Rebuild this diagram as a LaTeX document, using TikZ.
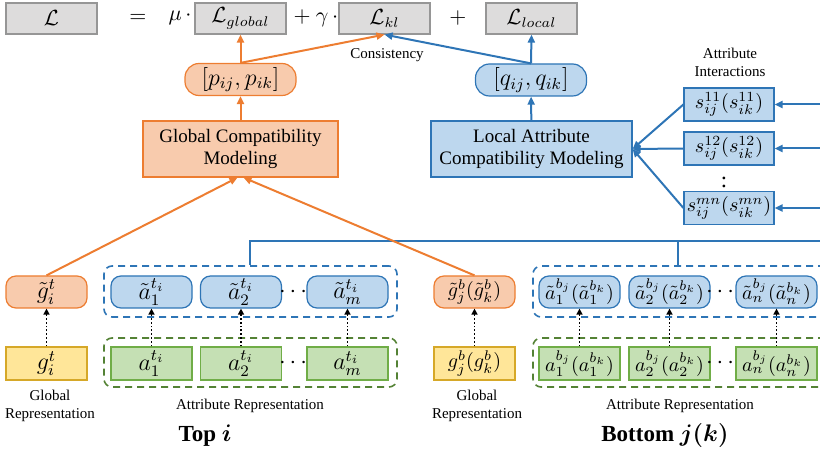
\documentclass[tikz,border=0pt]{standalone}
\usepackage{fontspec}
\setmainfont{Liberation Serif}
\usepackage{amsmath, amssymb, bm}
\usetikzlibrary{arrows.meta, positioning, calc}

\definecolor{lossgray}{RGB}{221, 220, 220}
\definecolor{lossedge}{RGB}{150, 150, 150}
\definecolor{globfill}{RGB}{248, 203, 173}
\definecolor{globline}{RGB}{237, 125, 49}
\definecolor{locfill}{RGB}{189, 215, 238}
\definecolor{locline}{RGB}{46, 117, 182}
\definecolor{repfill}{RGB}{255, 230, 153}
\definecolor{repline}{RGB}{214, 168, 40}
\definecolor{attfill}{RGB}{197, 224, 180}
\definecolor{attline}{RGB}{112, 173, 71}
\definecolor{attdash}{RGB}{84, 130, 53}

\begin{document}
\begin{tikzpicture}[x=0.5pt, y=-0.5pt,
  mathfont/.style={font=\fontsize{11.5}{13}\selectfont},
  pairfont/.style={font=\fontsize{10.3}{12}\selectfont},
  lossbox/.style={draw=lossedge, fill=lossgray, line width=0.6pt, minimum width=45.5pt, minimum height=15.5pt, inner sep=0pt, font=\fontsize{10.5}{12}\selectfont},
  probnode/.style={rounded corners=7pt, line width=0.6pt, minimum width=55.5pt, minimum height=16pt, inner sep=0pt, mathfont},
  modelbox/.style={line width=0.6pt, minimum height=28pt, inner sep=0pt, align=center, font=\fontsize{9.5}{11}\selectfont},
  embnode/.style={rounded corners=5pt, line width=0.6pt, minimum width=40.5pt, minimum height=16pt, inner sep=0pt, mathfont},
  repbox/.style={line width=0.6pt, minimum width=40.5pt, minimum height=16.5pt, inner sep=0pt, mathfont},
  interbox/.style={draw=locline, fill=locfill, line width=0.6pt, minimum width=45pt, minimum height=16.5pt, inner sep=0pt, pairfont},
  groupbox/.style={dashed, rounded corners=4pt, line width=0.8pt, dash pattern=on 3.5pt off 2.5pt, inner sep=0pt},
  caption/.style={font=\fontsize{7.5}{9}\selectfont, align=center},
  tip/.style={-{Triangle[length=4pt, width=3.5pt]}},
  dotarrow/.style={-{Triangle[length=3pt, width=3pt]}, densely dotted, line width=0.9pt}
]
  \clip (0, 0) rectangle (820, 454);

  % Loss equation
  \node[lossbox] (loss) at (51.5, 18.5) {$\mathcal{L}$};
  \node[lossbox, draw=none, fill=none, minimum width=0pt] (eq) at (138, 18) {$=$};
  \node[lossbox, draw=none, fill=none, minimum width=0pt] (mu) at (180, 18) {$\mu\,\cdot$};
  \node[lossbox] (lglobal) at (240.5, 18.5) {$\mathcal{L}_{global}$};
  \node[lossbox, draw=none, fill=none, minimum width=0pt] (gam) at (316, 18) {$+\ \gamma\,\cdot$};
  \node[lossbox] (lkl) at (384.5, 18.5) {$\mathcal{L}_{kl}$};
  \node[lossbox, draw=none, fill=none, minimum width=0pt] (plus) at (458, 18) {$+$};
  \node[lossbox] (llocal) at (531.5, 18.5) {$\mathcal{L}_{local}$};

  % Predictions
  \node[probnode, draw=globline, fill=globfill] (pred) at (240.5, 79.5) {$[p_{ij}, p_{ik}]$};
  \node[probnode, draw=locline, fill=locfill] (qred) at (531, 80) {$[q_{ij}, q_{ik}]$};
  \node[caption] (cons) at (387, 55) {Consistency};

  % Compatibility modeling
  \node[modelbox, draw=globline, fill=globfill, minimum width=97.5pt] (glob) at (240.5, 149) {Global Compatibility\\Modeling};
  \node[modelbox, draw=locline, fill=locfill, minimum width=100.5pt] (loc) at (531.5, 149) {Local Attribute\\Compatibility Modeling};

  % Attribute interactions
  \node[caption] (intercap) at (730, 62.5) {Attribute\\Interactions};
  \node[interbox] (s11) at (729, 104.5) {$s_{ij}^{11}(s_{ik}^{11})$};
  \node[interbox] (s12) at (729, 148.5) {$s_{ij}^{12}(s_{ik}^{12})$};
  \node[mathfont] (svdots) at (724, 180) {$\vdots$};
  \node[interbox] (smn) at (729, 208) {$s_{ij}^{mn}(s_{ik}^{mn})$};
  \coordinate (edge) at (835, 0);

  % Top i
  \node[groupbox, draw=locline, minimum width=146.5pt, minimum height=25.5pt] (tgroup) at (250.5, 291.5) {};
  \node[groupbox, draw=attdash, minimum width=146.5pt, minimum height=24.5pt] (tagroup) at (250.5, 362.5) {};
  \node[embnode, draw=globline, fill=globfill] (gti) at (46.5, 292) {$\tilde{g}_i^t$};
  \node[embnode, draw=locline, fill=locfill] (ati1) at (151.5, 292) {$\tilde{a}_1^{t_i}$};
  \node[embnode, draw=locline, fill=locfill] (ati2) at (241, 292) {$\tilde{a}_2^{t_i}$};
  \node[mathfont] (tdots) at (295, 292) {$\cdots$};
  \node[embnode, draw=locline, fill=locfill] (atim) at (347.5, 292) {$\tilde{a}_m^{t_i}$};
  \node[repbox, draw=repline, fill=repfill] (gi) at (46.5, 363.5) {$g_i^t$};
  \node[repbox, draw=attline, fill=attfill] (ai1) at (151.5, 363.5) {$a_1^{t_i}$};
  \node[repbox, draw=attline, fill=attfill] (ai2) at (241, 363.5) {$a_2^{t_i}$};
  \node[mathfont] (tadots) at (295, 363.5) {$\cdots$};
  \node[repbox, draw=attline, fill=attfill] (aim) at (347.5, 363.5) {$a_m^{t_i}$};
  \node[caption] (tglobcap) at (50, 405.5) {Global\\Representation};
  \node[caption] (tattcap) at (250, 406) {Attribute Representation};
  \node[font=\fontsize{11.5}{13}\selectfont\bfseries] (top) at (205, 436) {Top $\bm{i}$};

  % Bottom j(k)
  \node[groupbox, draw=locline, minimum width=156pt, minimum height=25.5pt] (bgroup) at (689, 291.5) {};
  \node[groupbox, draw=attdash, minimum width=156pt, minimum height=24.5pt] (bagroup) at (689, 362.5) {};
  \node[embnode, pairfont, draw=globline, fill=globfill] (gbj) at (474.5, 292) {$\tilde{g}_j^b(\tilde{g}_k^b)$};
  \node[embnode, pairfont, draw=locline, fill=locfill] (abj1) at (579.5, 292) {$\tilde{a}_1^{b_j}(\tilde{a}_1^{b_k})$};
  \node[embnode, pairfont, draw=locline, fill=locfill] (abj2) at (669.5, 292) {$\tilde{a}_2^{b_j}(\tilde{a}_2^{b_k})$};
  \node[mathfont] (bdots) at (722, 292) {$\cdots$};
  \node[embnode, pairfont, draw=locline, fill=locfill] (abjn) at (776.5, 292) {$\tilde{a}_n^{b_j}(\tilde{a}_n^{b_k})$};
  \node[repbox, pairfont, draw=repline, fill=repfill] (gj) at (474.5, 363.5) {$g_j^b(g_k^b)$};
  \node[repbox, pairfont, draw=attline, fill=attfill] (aj1) at (579.5, 363.5) {$a_1^{b_j}(a_1^{b_k})$};
  \node[repbox, pairfont, draw=attline, fill=attfill] (aj2) at (669.5, 363.5) {$a_2^{b_j}(a_2^{b_k})$};
  \node[mathfont] (badots) at (722, 363.5) {$\cdots$};
  \node[repbox, pairfont, draw=attline, fill=attfill] (ajn) at (776.5, 363.5) {$a_n^{b_j}(a_n^{b_k})$};
  \node[caption] (bglobcap) at (477, 405.5) {Global\\Representation};
  \node[caption] (battcap) at (680, 406) {Attribute Representation};
  \node[font=\fontsize{11.5}{13}\selectfont\bfseries] (bottom) at (665, 436) {Bottom $\bm{j(k)}$};

  % Dotted encodings
  \foreach \src/\dst in {gi/gti, ai1/ati1, ai2/ati2, aim/atim, gj/gbj, aj1/abj1, aj2/abj2, ajn/abjn}
    \draw[dotarrow] (\src) -- (\dst);

  % Attribute bus
  \coordinate (busl) at (250, 241);
  \coordinate (busm) at (678, 241);
  \draw[locline, line width=1pt] (tgroup.north -| busl) -- (busl) -- (busl -| edge);
  \draw[locline, line width=1pt] (busm) -- (bgroup.north -| busm);
  \foreach \s in {s11, s12, smn} {
    \draw[locline, line width=1pt, tip] (\s.east -| edge) -- (\s.east);
    \draw[locline, line width=1pt, tip] (\s.west) -- (loc.east);
  }

  % Global path
  \draw[globline, line width=1pt, tip] (gti.north) -- ([xshift=-1.5pt]glob.south);
  \draw[globline, line width=1pt, tip] (gbj.north) -- ([xshift=1.5pt]glob.south);
  \draw[globline, line width=1pt, tip] (glob) -- (pred);
  \draw[globline, line width=1pt, tip] (pred.north) -- (lglobal.south);
  \draw[globline, line width=1pt, tip] (pred.north) -- (lkl.south);

  % Local path
  \draw[locline, line width=1pt, tip] (loc) -- (qred);
  \draw[locline, line width=1pt, tip] (qred.north) -- (llocal.south);
  \draw[locline, line width=1pt, tip] (qred.north) -- (lkl.south);
\end{tikzpicture}
\end{document}
